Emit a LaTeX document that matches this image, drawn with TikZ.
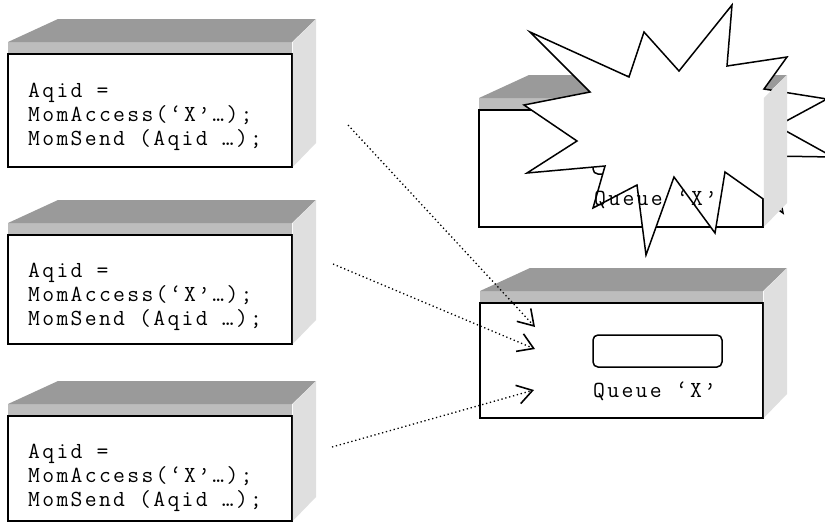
\documentclass[tikz,border=0pt]{standalone}
\usepackage{fontspec}
\newfontfamily\codefont{Latin Modern Mono}[LetterSpace=10.1]
\usetikzlibrary{arrows.meta,positioning,calc,backgrounds}

\definecolor{topgray}{HTML}{9A9A9A}
\definecolor{edgegray}{HTML}{BDBDBD}
\definecolor{sidegray}{HTML}{DFDFDF}

\begin{document}
\begin{tikzpicture}[
        x=1pt, y=-1pt,
        >={Straight Barb[length=15pt,width=19pt,line width=1.6pt]},
        front/.style={rectangle,draw,line width=1.5pt,fill=white,inner sep=0pt,outer sep=0pt,anchor=north west},
        code/.style={font=\codefont\fontsize{23}{24}\selectfont,align=left,inner sep=0pt,anchor=base west},
        qlabel/.style={font=\codefont\fontsize{23}{24}\selectfont,inner sep=0pt,anchor=base west},
        slot/.style={rectangle,draw,line width=1.5pt,rounded corners=5pt,inner sep=0pt,outer sep=0pt,anchor=north west,minimum width=129pt,minimum height=32pt},
        burst/.style={draw,line width=1.5pt,fill=white,line join=miter},
        arrow/.style={->,line width=1.3pt,dash pattern=on 1.3pt off 2.7pt}
    ]
        \useasboundingbox (0,0) rectangle (825,523);

        % client programs
        \node[front,minimum width=284pt,minimum height=113pt] (client1) at (8,54) {};
        \node[front,minimum width=284pt,minimum height=109pt] (client2) at (8,235) {};
        \node[front,minimum width=284pt,minimum height=105pt] (client3) at (8,416) {};

        % queues
        \node[front,minimum width=284pt,minimum height=117pt] (queue1) at (479,110) {};
        \node[front,minimum width=283pt,minimum height=115pt] (queue2) at (480,303) {};

        \begin{scope}[on background layer]
            \foreach \b in {client1,client2,client3,queue1,queue2} {
                \fill[edgegray] ($(\b.north west)+(0,-12)$) rectangle (\b.north east);
                \fill[topgray] ($(\b.north west)+(0,-12)$) -- ($(\b.north west)+(50,-35)$)
                    -- ($(\b.north east)+(24,-35)$) -- ($(\b.north east)+(0,-12)$) -- cycle;
            }
        \end{scope}

        \node[slot] (slot1) at ($(queue1.north west)+(114,32)$) {};
        \node[slot] (slot2) at ($(queue2.north west)+(113,32)$) {};
        \node[qlabel] (name2) at ($(queue2.north west)+(113,94)$) {Queue ‘X’};

        % crash
        \draw[burst] (530,32) -- (629,77) -- (644,32) -- (679,71) -- (732,5) -- (727,66)
            -- (787,57) -- (764,89) -- (827,99) -- (777,126) -- (833,157) -- (772,156)
            -- (783,213) -- (725,172) -- (715,233) -- (674,177) -- (646,255) -- (637,185)
            -- (593,208) -- (605,166) -- (527,173) -- (577,141) -- (524,105) -- (590,92) -- cycle;

        \foreach \b in {client1,client2,client3,queue1,queue2} {
            \fill[sidegray] ($(\b.north east)+(0.75,-12)$) -- ($(\b.north east)+(24,-35)$)
                -- ($(\b.south east)+(24,-24)$) -- ($(\b.south east)+(0.75,0)$) -- cycle;
        }

        \node[qlabel] (name1) at ($(queue1.north west)+(115,95)$) {Queue ‘X’};

        \node[code] (prog1) at ($(client1.north west)+(20,91)$) {Aqid =\\MomAccess(‘X’…);\\MomSend (Aqid …);};
        \node[code] (prog2) at ($(client2.north west)+(20,90)$) {Aqid =\\MomAccess(‘X’…);\\MomSend (Aqid …);};
        \node[code] (prog3) at ($(client3.north west)+(20,90)$) {Aqid =\\MomAccess(‘X’…);\\MomSend (Aqid …);};

        \coordinate (out1) at (348,125);
        \coordinate (out2) at (333,264);
        \coordinate (out3) at (332,447);
        \coordinate (in1) at (535,327);
        \coordinate (in2) at (535,349);
        \coordinate (in3) at (534,390);

        \draw[arrow] (out1) -- (in1);
        \draw[arrow] (out2) -- (in2);
        \draw[arrow] (out3) -- (in3);
    \end{tikzpicture}
\end{document}
